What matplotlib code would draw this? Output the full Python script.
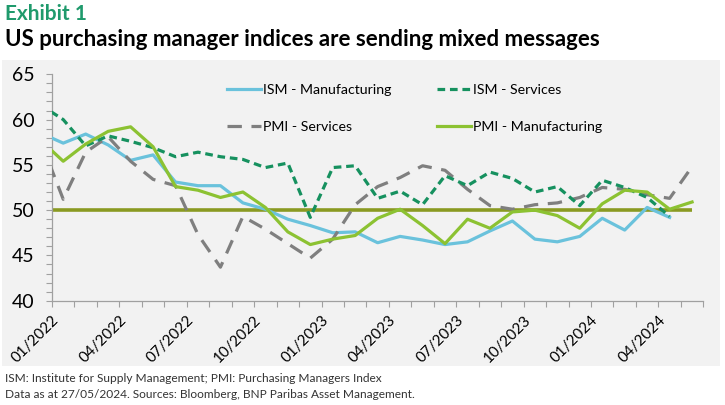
import matplotlib
matplotlib.use("Agg")
import matplotlib.pyplot as plt
from matplotlib.patches import Rectangle

# monthly readings, Dec 2021 .. May 2024 (Dec 2021 only feeds the clipped first segment)
months = ["12/2021",
          "01/2022", "02/2022", "03/2022", "04/2022", "05/2022", "06/2022",
          "07/2022", "08/2022", "09/2022", "10/2022", "11/2022", "12/2022",
          "01/2023", "02/2023", "03/2023", "04/2023", "05/2023", "06/2023",
          "07/2023", "08/2023", "09/2023", "10/2023", "11/2023", "12/2023",
          "01/2024", "02/2024", "03/2024", "04/2024", "05/2024"]

ism_manuf = [58.5,
             57.4, 58.4, 57.2, 55.5, 56.1, 53.1, 52.7, 52.7, 50.8, 50.1, 49.0, 48.3,
             47.5, 47.6, 46.4, 47.1, 46.7, 46.2, 46.5, 47.7, 48.8, 46.8, 46.5, 47.1,
             49.1, 47.8, 50.3, 49.2, None]
ism_services = [61.6,
                60.0, 57.1, 58.2, 57.6, 56.9, 55.9, 56.4, 55.9, 55.6, 54.7, 55.2, 49.2,
                54.7, 54.9, 51.3, 52.1, 50.6, 53.8, 52.7, 54.2, 53.5, 52.0, 52.6, 50.5,
                53.3, 52.5, 51.4, 49.3, None]
pmi_services = [57.6,
                51.2, 56.4, 58.1, 55.4, 53.4, 52.7, 47.3, 43.7, 49.3, 47.9, 46.3, 44.7,
                46.8, 50.6, 52.6, 53.6, 54.9, 54.4, 52.3, 50.5, 50.1, 50.6, 50.8, 51.4,
                52.5, 52.3, 51.7, 51.3, 54.8]
pmi_manuf = [57.7,
             55.4, 57.3, 58.7, 59.2, 57.0, 52.6, 52.2, 51.4, 52.0, 50.3, 47.6, 46.2,
             46.8, 47.2, 49.1, 50.1, 48.3, 46.3, 49.0, 48.0, 49.8, 50.0, 49.4, 48.0,
             50.7, 52.2, 52.0, 50.1, 50.9]
threshold = [50.0] * len(months)

tick_labels = ["01/2022", "04/2022", "07/2022", "10/2022", "01/2023",
               "04/2023", "07/2023", "10/2023", "01/2024", "04/2024"]

plt.rcParams['font.family'] = ['Lato', 'DejaVu Sans']

W, H = 725, 405
fig = plt.figure(figsize=(W / 100, H / 100), dpi=100)
fig.patch.set_facecolor("white")

# grey panel behind the chart
fig.patches.append(Rectangle((2 / W, 1 - 366 / H), 718 / W, 306 / H,
                             transform=fig.transFigure, facecolor="#f2f2f2",
                             edgecolor="none", zorder=-1))

ax = fig.add_axes([52 / W, 1 - 300.7 / H, 651.3 / W, 226.4 / H])
ax.set_facecolor("none")

# points sit in the middle of each month slot
x = [i - 0.5 for i in range(len(months))]


def pts(vals):
    xs = [xx for xx, v in zip(x, vals) if v is not None]
    ys = [v for v in vals if v is not None]
    return xs, ys


lw = 2.3
ax.plot(*pts(threshold), color="#8a9a22", lw=lw + 0.3,
        solid_capstyle="butt", zorder=2)
ax.plot(*pts(ism_manuf), color="#6ac2dc", lw=lw, label="ISM - Manufacturing", zorder=3)
ax.plot(*pts(pmi_services), color="#7f7f7f", lw=lw, ls=(0, (4.5, 3)),
        label="PMI - Services", zorder=3)
ax.plot(*pts(ism_services), color="#16915f", lw=lw, ls=(0, (2.4, 1.5)),
        label="ISM - Services", zorder=4)
ax.plot(*pts(pmi_manuf), color="#8cc232", lw=lw, label="PMI - Manufacturing", zorder=5)

ax.set_xlim(0, 29)
ax.set_ylim(40, 65)

ax.set_yticks(range(40, 66, 5))
ax.set_yticks(range(40, 66), minor=True)
ax.set_xticks(range(0, 28, 3))
ax.set_xticks(range(0, 30), minor=True)
ax.set_xticklabels(tick_labels, rotation=45, ha="right", rotation_mode="anchor",
                   fontsize=11)
ax.tick_params(axis="y", which="both", length=4.5, width=0.8, color="#a0a0a0",
               labelsize=14, pad=8)
ax.tick_params(axis="x", which="both", length=4.5, width=0.8, color="#a0a0a0",
               pad=4)

for s in ["top", "right"]:
    ax.spines[s].set_visible(False)
for s in ["left", "bottom"]:
    ax.spines[s].set_color("#a0a0a0")
    ax.spines[s].set_linewidth(0.9)

handles, labels = ax.get_legend_handles_labels()
ax.legend(handles, labels, ncol=2, loc="upper left", bbox_to_anchor=(0.258, 0.99),
          frameon=False, fontsize=10.2, borderpad=0, handlelength=2.4,
          handletextpad=0.15, columnspacing=3.2, labelspacing=1.8)

fig.text(5 / W, 1 - 14 / H, "Exhibit 1", color="#1f9a6c", fontsize=15,
         fontweight="bold", va="center", ha="left")
fig.text(5 / W, 1 - 40 / H, "US purchasing manager indices are sending mixed messages",
         color="black", fontsize=16, fontweight="bold", va="center", ha="left")
fig.text(5 / W, 1 - 379 / H,
         "ISM: Institute for Supply Management; PMI: Purchasing Managers Index",
         fontsize=8.6, color="#333333", va="center", ha="left")
fig.text(5 / W, 1 - 394 / H,
         "Data as at 27/05/2024. Sources: Bloomberg, BNP Paribas Asset Management.",
         fontsize=8.6, color="#333333", va="center", ha="left")

fig.savefig("out.png", dpi=100)
